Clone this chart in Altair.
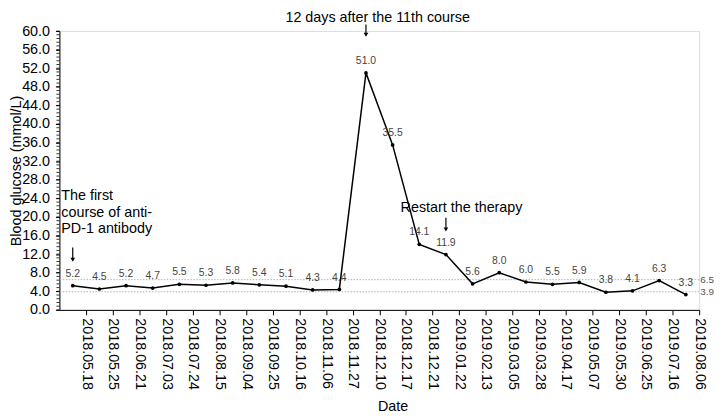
import altair as alt
import pandas as pd

dates = ["2018.05.18", "2018.05.25", "2018.06.21", "2018.07.03", "2018.07.24",
         "2018.08.15", "2018.09.04", "2018.09.25", "2018.10.16", "2018.11.06",
         "2018.11.27", "2018.12.10", "2018.12.17", "2018.12.21", "2019.01.22",
         "2019.02.13", "2019.03.05", "2019.03.28", "2019.04.17", "2019.05.07",
         "2019.05.30", "2019.06.25", "2019.07.16", "2019.08.06"]
glucose = [5.2, 4.5, 5.2, 4.7, 5.5, 5.3, 5.8, 5.4, 5.1, 4.3, 4.4, 51.0,
           35.5, 14.1, 11.9, 5.6, 8.0, 6.0, 5.5, 5.9, 3.8, 4.1, 6.3, 3.3]
ref_values = [6.5, 3.9]
ref_labels = ["6.5", "3.9"]
y_ticks = [0, 4, 8, 12, 16, 20, 24, 28, 32, 36, 40, 44, 48, 52, 56, 60]
minor_ticks = [round(i * 0.8, 1) for i in range(76)]

FONT = "Liberation Sans"
n = len(dates)

df = pd.DataFrame({
    "pos": [i + 0.5 for i in range(n)],
    "val": glucose,
    "label": [f"{v:.1f}" for v in glucose],
})

label_expr = "[" + ",".join(f"'{d}'" for d in dates) + "][datum.value - 1]"

x_axis = alt.Axis(values=list(range(1, n + 1)), labelExpr=label_expr,
                  labelAngle=90, labelAlign="left", labelBaseline="middle",
                  labelPadding=3, labelFontSize=14.5, labelFont=FONT,
                  labelColor="black", tickColor="black", tickSize=5,
                  domainColor="black", grid=False, labelOverlap=False,
                  title="Date", titleFont=FONT, titleFontSize=14.5,
                  titleFontWeight="normal", titleColor="black",
                  titleX=337, titleY=98, titleAlign="center",
                  titleBaseline="middle")
y_axis = alt.Axis(values=y_ticks, format=".1f", tickSize=4,
                  labelPadding=6, labelFontSize=14.5, labelFont=FONT,
                  labelColor="black", tickColor="black", labelOverlap=False,
                  labelFlush=False, domainColor="black", grid=False,
                  title="Blood glucose (mmol/L)", titleFont=FONT,
                  titleFontSize=14.5, titleFontWeight="normal",
                  titleColor="black", titleX=-43, titleY=141,
                  titleAngle=-90, titleAlign="center",
                  titleBaseline="middle")
x_scale = alt.Scale(domain=[0, n], nice=False, zero=False)
y_scale = alt.Scale(domain=[0, 60], nice=False)

X = alt.X("pos:Q", scale=x_scale, axis=x_axis)
Y = alt.Y("val:Q", scale=y_scale, axis=y_axis)

# reference lines
ref_df = pd.DataFrame({"pos": [n, n], "val": ref_values, "label": ref_labels})
ref_rules = alt.Chart(ref_df).mark_rule(
    color="#9db5c6", strokeWidth=1, strokeDash=[1.5, 1.5]
).encode(y=Y)
ref_text = alt.Chart(ref_df).mark_text(
    align="left", baseline="middle", dx=1, fontSize=10, font=FONT, color="#555555"
).encode(x=X, y=Y, text="label:N")

# minor ticks on y axis
minor_df = pd.DataFrame({"val": minor_ticks})
minor = alt.Chart(minor_df).mark_rule(color="black", strokeWidth=0.8).encode(
    y=Y, x=alt.value(-3), x2=alt.value(0))

line = alt.Chart(df).mark_line(color="black", strokeWidth=1.5).encode(x=X, y=Y)
pts = alt.Chart(df).mark_point(filled=True, color="black", size=14, opacity=1).encode(x=X, y=Y)
vals = alt.Chart(df).mark_text(
    dy=-12, fontSize=10.5, font=FONT, color="#444444", baseline="middle"
).encode(x=X, y=Y, text="label:N")

# annotations
title_df = pd.DataFrame({"pos": [11.94], "val": [62.9], "label": ["12 days after the 11th course"]})
title_t = alt.Chart(title_df).mark_text(
    align="center", baseline="middle", fontSize=14.5, font=FONT, color="black"
).encode(x=X, y=Y, text="label:N")

restart_df = pd.DataFrame({"pos": [12.8], "val": [21.9], "label": ["Restart the therapy"]})
restart_t = alt.Chart(restart_df).mark_text(
    align="left", baseline="middle", fontSize=14.5, font=FONT, color="black"
).encode(x=X, y=Y, text="label:N")

first_df = pd.DataFrame({"pos": [0.07, 0.07, 0.07], "val": [24.5, 20.9, 17.3],
                         "label": ["The first", "course of anti-", "PD-1 antibody"]})
first_t = alt.Chart(first_df).mark_text(
    align="left", baseline="middle", fontSize=14.5, font=FONT, color="black"
).encode(x=X, y=Y, text="label:N")

arrow_df = pd.DataFrame({"pos": [11.5, 0.5, 14.5], "val": [61.4, 13.4, 19.8],
                         "end": [59.2, 10.8, 17.3]})
arrow_shaft = alt.Chart(arrow_df).mark_rule(color="black", strokeWidth=1.2).encode(
    x=X, y=Y, y2="end:Q")
arrow_head = alt.Chart(arrow_df).mark_point(
    shape="triangle-down", filled=True, color="black", size=22, opacity=1
).encode(x=X, y=alt.Y("end:Q", scale=y_scale, axis=y_axis))

chart = alt.layer(
    ref_rules, ref_text, minor, line, pts, vals,
    title_t, restart_t, first_t, arrow_shaft, arrow_head
).properties(
    width=647, height=282,
    padding={"left": 52, "top": 21, "right": 15, "bottom": 105},
    autosize=alt.AutoSizeParams(type="none"),
).configure_view(stroke=None).configure_axis(labelOverlap=False).configure(background="white")

chart.save("out.html", embed_options={"renderer": "svg", "actions": False})
